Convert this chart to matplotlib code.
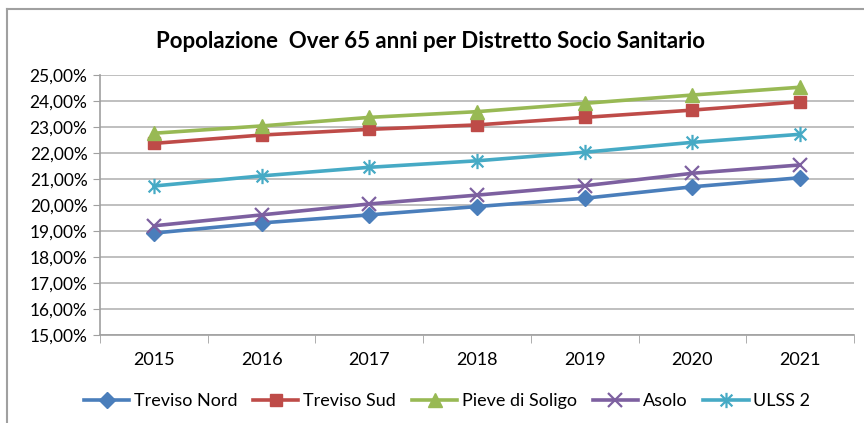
import matplotlib
matplotlib.use("Agg")
import matplotlib.pyplot as plt
from matplotlib.path import Path
from matplotlib.ticker import FuncFormatter, MultipleLocator
from matplotlib.lines import Line2D

years = ["2015", "2016", "2017", "2018", "2019", "2020", "2021"]
treviso_nord = [18.92, 19.31, 19.62, 19.94, 20.26, 20.70, 21.05]
treviso_sud = [22.37, 22.69, 22.91, 23.08, 23.37, 23.65, 23.97]
pieve_di_soligo = [22.76, 23.04, 23.37, 23.59, 23.91, 24.23, 24.53]
asolo = [19.20, 19.62, 20.04, 20.38, 20.74, 21.22, 21.54]
ulss2 = [20.73, 21.12, 21.45, 21.70, 22.03, 22.41, 22.72]
series_names = ["Treviso Nord", "Treviso Sud", "Pieve di Soligo", "Asolo", "ULSS 2"]

plt.rcParams['font.family'] = ['Lato', 'DejaVu Sans']

star = Path([(-1, -1), (1, 1), (-1, 1), (1, -1), (0, -1.3), (0, 1.3)],
            [Path.MOVETO, Path.LINETO, Path.MOVETO, Path.LINETO, Path.MOVETO, Path.LINETO])

styles = [
    (treviso_nord, "#4A7EBB", "D", 8, True),
    (treviso_sud, "#BE4B48", "s", 9, True),
    (pieve_di_soligo, "#98B954", "^", 10, True),
    (asolo, "#7D60A0", "x", 10, False),
    (ulss2, "#46AAC5", star, 11, False),
]

fig = plt.figure(figsize=(8.64, 4.23), dpi=100)
ax = fig.add_axes([100/864, 1-335/423, 754/864, 260/423])

x = list(range(len(years)))
handles = []
for (vals, col, mk, ms, filled), name in zip(styles, series_names):
    if filled:
        h, = ax.plot(x, vals, color=col, lw=2.6, marker=mk, ms=ms,
                     mfc=col, mec=col, label=name, zorder=3)
    else:
        h, = ax.plot(x, vals, color=col, lw=2.6, marker=mk, ms=ms,
                     mec=col, mew=1.6, label=name, zorder=3)
    handles.append(h)

ax.set_xlim(-0.5, 6.5)
ax.set_ylim(15, 25)
ax.yaxis.set_major_locator(MultipleLocator(1))
ax.yaxis.set_major_formatter(FuncFormatter(lambda v, p: f"{v:.2f}%".replace(".", ",")))
ax.set_xticks(x)
ax.set_xticklabels(years)
ax.set_xticks([i - 0.5 for i in range(len(years) + 1)], minor=True)
ax.tick_params(axis='x', which='major', length=0, pad=12, labelsize=13)
ax.tick_params(axis='x', which='minor', length=6, color='#A0A0A0', direction='out')
ax.tick_params(axis='y', length=5, color='#A0A0A0', labelsize=12.5, pad=4)
ax.grid(axis='y', color='#B4B4B4', lw=1.2)
ax.set_axisbelow(True)
for s in ['top', 'right']:
    ax.spines[s].set_visible(False)
for s in ['left', 'bottom']:
    ax.spines[s].set_color('#A0A0A0')
    ax.spines[s].set_linewidth(1.2)

fig.text(431/864, 1-42/423, "Popolazione  Over 65 anni per Distretto Socio Sanitario",
         ha='center', va='center', fontsize=16, fontweight='bold')

fig.legend(handles=handles, loc='center', bbox_to_anchor=(447/864, 1-401/423),
           ncol=5, frameon=False, fontsize=13, handlelength=2.5,
           columnspacing=0.9, handletextpad=0.25)

fig.add_artist(Line2D([7/864, 1], [1-9/423, 1-9/423], color='#A0A0A0', lw=1.5))
fig.add_artist(Line2D([7/864, 7/864], [0, 1-9/423], color='#A0A0A0', lw=1.5))

fig.savefig("out.png", dpi=100)
